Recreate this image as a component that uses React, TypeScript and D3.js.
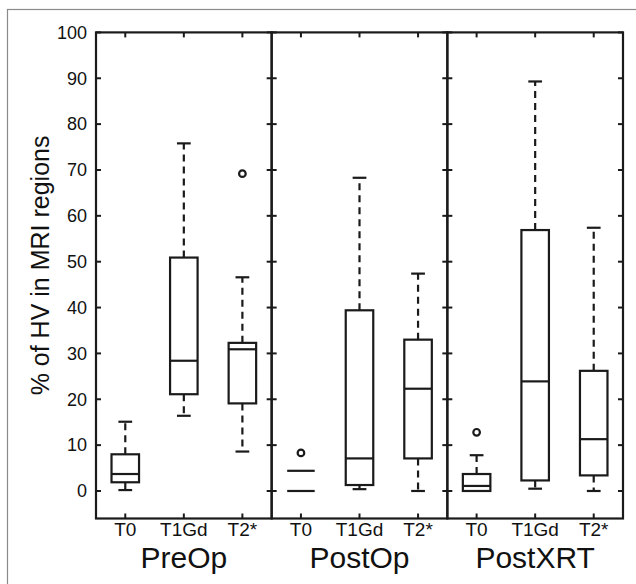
import React from "react";
import * as d3 from "d3";

const groups = ["PreOp", "PostOp", "PostXRT"];
const categories = ["T0", "T1Gd", "T2*"];
// order: group-major, category-minor
const lowerWhisker = [0.2, 16.4, 8.6, 0, 0.4, 0, 0, 0.5, 0];
const q1 = [1.9, 21.1, 19.1, 0, 1.3, 7.1, 0, 2.3, 3.4];
const medians = [3.7, 28.4, 30.9, 0, 7.1, 22.3, 1.1, 23.9, 11.3];
const q3 = [8.0, 50.9, 32.3, 4.4, 39.4, 33.0, 3.7, 56.9, 26.2];
const upperWhisker = [15.1, 75.8, 46.6, 4.4, 68.3, 47.4, 7.8, 89.3, 57.4];
const outliers: { group: string; category: string; value: number }[] = [
  { group: "PreOp", category: "T2*", value: 69.2 },
  { group: "PostOp", category: "T0", value: 8.3 },
  { group: "PostXRT", category: "T0", value: 12.8 },
];
const openBox = [false, false, false, true, false, false, false, false, false];
const yTicks = [0, 10, 20, 30, 40, 50, 60, 70, 80, 90, 100];
const yLabel = "% of HV in MRI regions";

export default function App() {
  const W = 636, H = 584;
  const left = 96, right = 623, top = 32.4, bottom = 518.5;
  const y = d3.scaleLinear().domain([-6, 100]).range([bottom, top]);
  const gx = d3.scaleBand().domain(groups).range([left, right]).padding(0);
  const bw = gx.bandwidth();
  const xi = d3.scaleLinear().domain([0.5, 3.5]).range([0, bw]);
  const boxW = xi(1.47) - xi(1);
  const capW = boxW / 2;
  const stroke = "#1a1a1a";
  const font = "'Liberation Sans', Arial, Helvetica, sans-serif";
  const tickLen = 5;

  return (
    <svg width={W} height={H} style={{ position: "absolute", left: 0, top: 0, background: "#fff" }} fontFamily={font}>
      <rect x={7.5} y={9.5} width={700} height={700} fill="none" stroke="#8a8a8a" strokeWidth={1.2} />
      {groups.map((g, gi) => {
        const x0 = gx(g)!;
        return (
          <g key={g}>
            {yTicks.map((t) => (
              <g key={t}>
                <line x1={x0} x2={x0 + tickLen} y1={y(t)} y2={y(t)} stroke={stroke} strokeWidth={2} />
                <line x1={x0 + bw} x2={x0 + bw - tickLen} y1={y(t)} y2={y(t)} stroke={stroke} strokeWidth={2} />
              </g>
            ))}
            {categories.map((c, ci) => {
              const cx = x0 + xi(ci + 1);
              return (
                <g key={c}>
                  <line x1={cx} x2={cx} y1={top} y2={top + tickLen} stroke={stroke} strokeWidth={2} />
                  <line x1={cx} x2={cx} y1={bottom} y2={bottom - tickLen} stroke={stroke} strokeWidth={2} />
                  <text x={cx} y={536} textAnchor="middle" fontSize={19} fill="#111">{c}</text>
                </g>
              );
            })}
            {categories.map((c, ci) => {
              const i = gi * 3 + ci;
              const cx = x0 + xi(ci + 1);
              const bl = cx - boxW / 2, br = cx + boxW / 2;
              return (
                <g key={"b" + c}>
                  {upperWhisker[i] > q3[i] && (
                    <>
                      <line x1={cx} x2={cx} y1={y(q3[i])} y2={y(upperWhisker[i])} stroke={stroke} strokeWidth={2.2} strokeDasharray="7,5" />
                      <line x1={cx - capW / 2} x2={cx + capW / 2} y1={y(upperWhisker[i])} y2={y(upperWhisker[i])} stroke={stroke} strokeWidth={2.2} />
                    </>
                  )}
                  {lowerWhisker[i] < q1[i] && (
                    <>
                      <line x1={cx} x2={cx} y1={y(q1[i])} y2={y(lowerWhisker[i])} stroke={stroke} strokeWidth={2.2} strokeDasharray="7,5" />
                      <line x1={cx - capW / 2} x2={cx + capW / 2} y1={y(lowerWhisker[i])} y2={y(lowerWhisker[i])} stroke={stroke} strokeWidth={2.2} />
                    </>
                  )}
                  {openBox[i] ? (
                    <>
                      <line x1={bl} x2={br} y1={y(q3[i])} y2={y(q3[i])} stroke={stroke} strokeWidth={2.2} />
                      <line x1={bl} x2={br} y1={y(q1[i])} y2={y(q1[i])} stroke={stroke} strokeWidth={2.2} />
                    </>
                  ) : (
                    <>
                      <rect x={bl} y={y(q3[i])} width={boxW} height={y(q1[i]) - y(q3[i])} fill="none" stroke={stroke} strokeWidth={2.2} />
                      <line x1={bl} x2={br} y1={y(medians[i])} y2={y(medians[i])} stroke={stroke} strokeWidth={2.2} />
                    </>
                  )}
                </g>
              );
            })}
            {outliers.filter((o) => o.group === g).map((o, k) => (
              <circle key={k} cx={x0 + xi(categories.indexOf(o.category) + 1)} cy={y(o.value)} r={3.3} fill="none" stroke={stroke} strokeWidth={2.2} />
            ))}
            <rect x={x0} y={top} width={bw} height={bottom - top} fill="none" stroke={stroke} strokeWidth={2.2} />
            <text x={x0 + bw / 2} y={568} textAnchor="middle" fontSize={30} fill="#111">{g}</text>
          </g>
        );
      })}
      {yTicks.map((t) => (
        <text key={t} x={left - 9} y={y(t)} dy="0.35em" textAnchor="end" fontSize={18} fill="#111">{t}</text>
      ))}
      <text transform={`translate(49,${(top + bottom) / 2 - 10}) rotate(-90)`} textAnchor="middle" fontSize={25} fill="#111">{yLabel}</text>
    </svg>
  );
}
